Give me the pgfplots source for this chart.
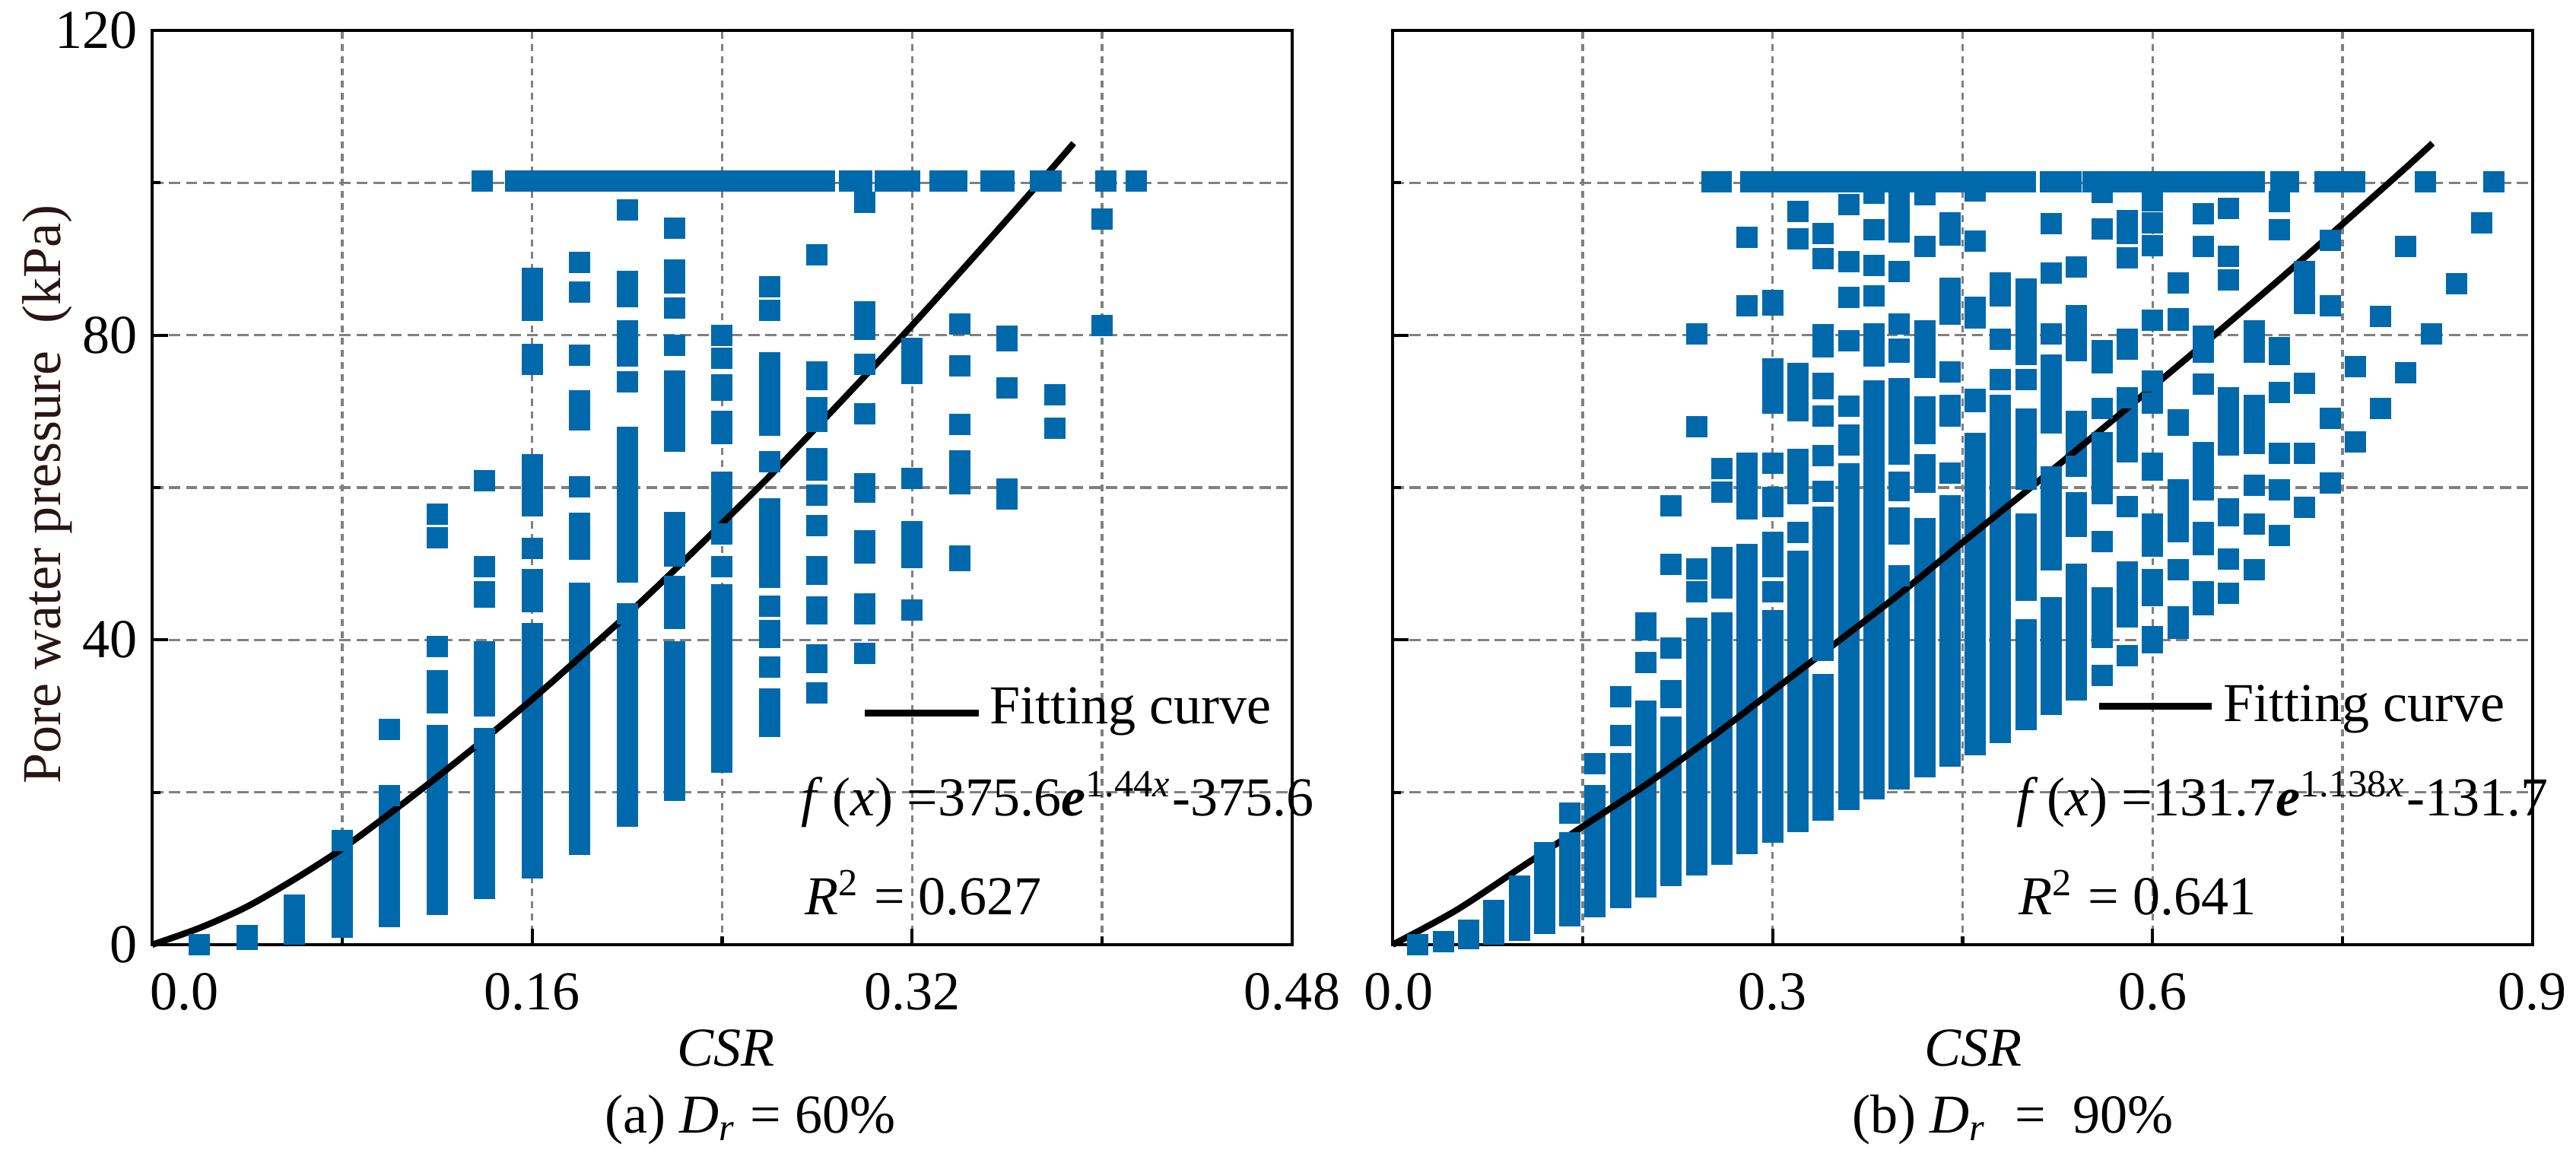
\documentclass[border=0pt]{standalone}
\usepackage{fontspec}
\setmainfont{Liberation Serif}
\usepackage{pgfplots}
\usepackage{pgfplotstable}
\pgfplotsset{compat=1.18}
\definecolor{dotblue}{RGB}{0,105,172}
\definecolor{gridgray}{RGB}{128,128,128}
\definecolor{ylab}{RGB}{40,22,20}

% ---------- left panel (Dr = 60%) vertical runs of points: x, lowest, highest ----------
\pgfplotstableread{
x lo hi
0.02 0 0
0.04 0.7 1.2
0.06 1.4 5.2
0.08 2.3 13.7
0.10 28.3 28.3
0.10 3.7 19.6
0.12 56.5 56.5
0.12 53.4 53.4
0.12 39.1 39.1
0.12 31.7 34.6
0.12 5.3 27.5
0.14 60.9 60.9
0.14 49.6 49.6
0.14 45.6 46.3
0.14 31.3 38.4
0.14 7.4 27.1
0.16 83.3 87.5
0.16 76.2 77.5
0.16 57.6 63.0
0.16 52.0 52.0
0.16 45.0 47.9
0.16 10.1 40.8
0.18 89.6 89.6
0.18 85.7 85.7
0.18 77.4 77.4
0.18 68.9 71.4
0.18 60.1 60.1
0.18 51.9 55.3
0.18 13.2 46.1
0.20 96.4 96.4
0.20 85.1 87.1
0.20 77.3 80.6
0.20 73.9 73.9
0.20 48.9 66.6
0.20 16.9 43.4
0.22 94.0 94.0
0.22 86.9 88.6
0.22 83.6 83.6
0.22 78.7 78.7
0.22 66.1 74.0
0.22 51.0 55.4
0.22 42.8 47.0
0.22 20.3 38.4
0.24 80.0 80.0
0.24 77.0 77.0
0.24 72.8 73.5
0.24 67.1 68.7
0.24 53.9 60.7
0.24 49.6 49.6
0.24 24.0 45.9
0.26 86.4 86.4
0.26 83.3 83.3
0.26 68.2 76.4
0.26 63.4 63.4
0.26 48.2 57.2
0.26 44.4 44.4
0.26 40.3 41.2
0.26 36.4 36.4
0.26 28.7 32.2
0.28 90.6 90.6
0.28 74.2 75.2
0.28 68.7 70.5
0.28 62.3 63.8
0.28 59.0 59.0
0.28 55.0 55.0
0.28 48.6 49.6
0.28 43.4 44.3
0.28 37.0 38.0
0.28 33.0 33.0
0.30 97.4 97.4
0.30 80.8 83.1
0.30 76.2 76.2
0.30 69.7 69.7
0.30 59.4 60.5
0.30 51.4 53.0
0.30 43.4 44.7
0.30 38.2 38.2
0.32 75.0 78.3
0.32 61.2 61.2
0.32 50.8 54.2
0.32 43.9 43.9
0.34 81.5 81.5
0.34 76.0 76.0
0.34 68.3 68.3
0.34 60.5 63.5
0.34 50.4 51.0
0.36 79.3 79.9
0.36 73.1 73.1
0.36 58.5 59.8
0.38 72.2 72.2
0.38 67.8 67.8
0.40 95.2 95.2
0.40 81.3 81.3
}\leftV

% left panel, points at 100 kPa: runs from x lo to x hi
\pgfplotstableread{
lo hi y
0.139 0.139 100.2
0.153 0.153 100.2
0.160 0.283 100.2
0.2936 0.2989 100.2
0.3087 0.3188 100.2
0.3318 0.3387 100.2
0.3533 0.3586 100.2
0.3740 0.3785 100.2
0.4015 0.4015 100.2
0.4145 0.4145 100.2
}\leftH

\pgfplotstableread{
x y
0 0
0.02 2.2
0.04 5.0
0.06 8.6
0.08 12.6
0.10 17.2
0.12 22.0
0.14 27.0
0.16 32.2
0.18 37.7
0.20 43.3
0.22 49.2
0.24 55.3
0.26 61.5
0.28 68.0
0.30 74.6
0.32 81.3
0.34 88.2
0.36 95.2
0.38 102.3
0.388 105.2
}\leftFit

% ---------- right panel (Dr = 90%) ----------
\pgfplotstableread{
x lo hi
0.02 0 0
0.04 0.4 0.4
0.06 0.8 1.9
0.08 1.4 4.5
0.10 1.9 7.7
0.12 2.8 12.1
0.14 17.3 17.3
0.14 3.8 13.4
0.16 23.8 23.8
0.16 5.0 19.6
0.18 32.5 32.5
0.18 27.5 27.5
0.18 6.2 23.8
0.20 41.3 42.2
0.20 37.0 37.0
0.20 7.6 30.6
0.22 57.6 57.6
0.22 49.9 49.9
0.22 38.9 38.9
0.22 32.4 33.3
0.22 9.1 28.6
0.24 80.2 80.2
0.24 68.0 68.0
0.24 49.3 49.3
0.24 46.3 46.3
0.24 10.5 41.5
0.26 62.5 62.5
0.26 59.4 59.4
0.26 46.8 50.8
0.26 11.9 42.2
0.28 92.8 92.8
0.28 83.9 83.9
0.28 57.2 63.2
0.28 13.3 51.2
0.30 84.0 84.6
0.30 71.1 75.6
0.30 63.2 63.2
0.30 57.5 58.7
0.30 49.6 52.8
0.30 46.3 46.3
0.30 14.8 42.5
0.32 96.2 96.2
0.32 92.6 92.6
0.32 70.1 75.0
0.32 59.2 63.7
0.32 54.1 54.1
0.32 16.2 50.3
0.34 93.3 93.3
0.34 90.1 90.1
0.34 78.5 80.1
0.34 73.0 73.7
0.34 69.4 69.4
0.34 64.2 64.2
0.34 59.5 59.5
0.34 38.6 56.1
0.34 17.7 34.1
0.36 97.1 97.1
0.36 89.7 89.7
0.36 85.0 85.0
0.36 79.3 79.3
0.36 70.7 70.7
0.36 65.6 66.9
0.36 19.1 61.8
0.38 98.6 98.6
0.38 93.8 93.8
0.38 89.2 89.2
0.38 85.2 85.2
0.38 77.3 80.2
0.38 20.5 72.7
0.40 93.5 98.9
0.40 88.4 88.4
0.40 81.5 81.5
0.40 77.8 78.2
0.40 64.4 73.0
0.40 59.6 60.7
0.40 53.9 56.0
0.40 21.8 48.4
0.42 98.4 98.4
0.42 91.6 91.6
0.42 75.8 80.6
0.42 67.1 70.6
0.42 60.7 63.0
0.42 23.4 54.6
0.44 93.1 94.7
0.44 82.8 86.2
0.44 75.2 75.2
0.44 69.4 70.8
0.44 61.9 61.9
0.44 24.8 57.6
0.46 98.9 98.9
0.46 92.3 92.3
0.46 82.3 83.7
0.46 71.3 71.6
0.46 26.3 65.8
0.48 85.2 86.9
0.48 79.5 79.5
0.48 74.2 74.2
0.48 27.9 70.8
0.50 77.5 86.1
0.50 74.2 74.2
0.50 61.1 69.0
0.50 46.5 55.2
0.50 29.6 41.3
0.52 94.6 94.6
0.52 88.2 88.2
0.52 80.2 80.2
0.52 68.5 76.1
0.52 50.5 61.4
0.52 31.5 44.2
0.54 89.0 89.0
0.54 78.0 82.6
0.54 62.8 68.7
0.54 54.9 58.0
0.54 33.4 48.6
0.56 98.7 98.7
0.56 93.9 93.9
0.56 76.4 78.0
0.56 70.4 70.4
0.56 59.2 65.9
0.56 52.9 52.9
0.56 40.3 45.5
0.56 35.3 35.3
0.58 93.3 95.0
0.58 90.2 90.2
0.58 78.2 79.5
0.58 64.7 71.8
0.58 57.5 57.5
0.58 43.0 48.9
0.58 37.9 37.9
0.60 97.6 97.6
0.60 94.7 94.7
0.60 91.7 91.7
0.60 82.0 82.0
0.60 71.1 74.0
0.60 62.3 63.2
0.60 52.3 55.2
0.60 45.8 47.9
0.60 39.6 40.4
0.62 86.9 86.9
0.62 82.0 82.2
0.62 68.2 68.9
0.62 54.2 59.7
0.62 49.2 49.2
0.62 41.5 43.0
0.64 95.9 95.9
0.64 91.6 91.6
0.64 77.8 79.9
0.64 73.6 73.6
0.64 59.7 64.6
0.64 52.5 54.1
0.64 44.6 46.3
0.66 96.6 96.6
0.66 90.4 90.4
0.66 87.3 87.3
0.66 65.6 71.8
0.66 56.3 57.2
0.66 50.6 50.6
0.66 46.1 46.1
0.68 80.6 80.6
0.68 77.8 77.8
0.68 65.8 70.8
0.68 60.3 60.3
0.68 55.2 55.2
0.68 49.2 49.2
0.70 97.5 97.5
0.70 93.8 93.8
0.70 77.5 78.4
0.70 72.5 72.5
0.70 64.5 64.5
0.70 59.7 59.7
0.70 53.7 53.7
0.72 84.2 88.4
0.72 73.7 73.7
0.72 64.5 64.5
0.72 57.4 57.4
0.74 92.4 92.4
0.74 83.9 83.9
0.74 69.1 69.1
0.74 60.6 60.6
0.76 75.9 75.9
0.76 66.0 66.0
0.78 82.5 82.5
0.78 70.4 70.4
0.80 91.6 91.6
0.80 75.1 75.1
0.82 80.2 80.2
0.84 86.8 86.8
0.86 94.7 94.7
}\rightV

\pgfplotstableread{
lo hi y
0.2520 0.2596 100.1
0.2830 0.4993 100.1
0.5195 0.5354 100.1
0.5531 0.6804 100.1
0.7012 0.7074 100.1
0.7363 0.7595 100.1
0.8153 0.8153 100.1
0.8694 0.8694 100.1
}\rightH

\pgfplotstableread{
x y
0 0
0.05 4.5
0.10 10.0
0.15 15.5
0.20 21.0
0.25 27.0
0.30 33.3
0.35 39.6
0.40 46.0
0.45 52.8
0.50 59.5
0.55 66.3
0.60 73.2
0.65 80.2
0.70 87.3
0.75 94.6
0.80 102.0
0.821 105.2
}\rightFit

\pgfplotsset{
  panel/.style={
    scale only axis, width=214.14pt, height=171.71pt,
    anchor=south west,
    ymin=0, ymax=120,
    ytick={0,40,80,120}, minor ytick={20,60,100},
    grid=both,
    major x grid style={gridgray, line width=0.5pt, dash pattern=on 1.3pt off 1.0pt},
    minor x grid style={gridgray, line width=0.5pt, dash pattern=on 1.3pt off 1.0pt},
    major y grid style={gridgray, line width=0.5pt, dash pattern=on 2.1pt off 1.1pt},
    minor y grid style={gridgray, line width=0.5pt, dash pattern=on 2.1pt off 1.1pt},
    tick align=inside, tick pos=left,
    major tick length=3pt, minor tick length=1.6pt,
    axis line style={line width=0.6pt},
    every tick/.style={black, line width=0.6pt},
    clip=false,
    tick label style={font=\fontsize{10.3}{12.4}\selectfont},
    xticklabel style={yshift=-1.9pt},
    yticklabel style={xshift=0.8pt},
  },
  vruns/.style={color=dotblue, only marks, mark=square*, mark size=1.8pt,
    mark options={solid, fill=dotblue, draw=dotblue, line width=0.4pt}},
  vbars/.style={color=dotblue, only marks, mark=square*, mark size=1.8pt,
    mark options={solid, fill=dotblue, draw=dotblue, line width=0.4pt},
    error bars/.cd, y dir=plus, y explicit, error mark=none,
    error bar style={line width=4pt, draw=dotblue, solid}},
  hbars/.style={color=dotblue, only marks, mark=square*, mark size=1.8pt,
    mark options={solid, fill=dotblue, draw=dotblue, line width=0.4pt},
    error bars/.cd, x dir=plus, x explicit, error mark=none,
    error bar style={line width=4pt, draw=dotblue, solid}},
}

\begin{document}
\begin{tikzpicture}[font=\fontsize{10.3}{12.4}\selectfont]
\useasboundingbox (0,0) rectangle (483.86pt,-218.43pt);

% ----- left panel -----
\begin{axis}[panel, at={(28.57pt,-177.43pt)},
  xmin=0, xmax=0.48,
  xtick={0,0.16,0.32,0.48}, minor xtick={0.08,0.24,0.40},
  xticklabels={\hspace{12.2pt}0.0, 0.16, 0.32, 0.48\hspace{4.6pt}},
  yticklabels={0,40,80,120}]
\addplot[vbars] table[x=x, y=lo, y error expr=\thisrow{hi}-\thisrow{lo}] {\leftV};
\addplot[vruns] table[x=x, y=hi] {\leftV};
\addplot[hbars] table[x=lo, y=y, x error expr=\thisrow{hi}-\thisrow{lo}] {\leftH};
\addplot[vruns] table[x=hi, y=y] {\leftH};
\addplot[black, line width=1.2pt, smooth, no marks] table[x=x, y=y] {\leftFit};
\draw[black, line width=1.2pt] (axis cs:0.3002,30.4) -- (axis cs:0.3482,30.4);
\node[anchor=base west, inner sep=0pt] at (axis cs:0.3522,29.0) {Fitting curve};
\node[anchor=base west, inner sep=0pt] at (axis cs:0.273,16.9)
  {\textit{f}\,(\textit{x}) =375.6\textbf{\textit{e}}\textsuperscript{1.44\textit{x}}-375.6};
\node[anchor=base west, inner sep=0pt] at (axis cs:0.2744,3.9)
  {\textit{R}\textsuperscript{2} = 0.627};
\end{axis}

% ----- right panel -----
\begin{axis}[panel, at={(261.57pt,-177.43pt)},
  xmin=0, xmax=0.9,
  xtick={0,0.3,0.6,0.9}, minor xtick={0.15,0.45,0.75},
  xticklabels={\hspace{2.3pt}0.0, 0.3, 0.6, 0.9},
  yticklabels={}]
\addplot[vbars] table[x=x, y=lo, y error expr=\thisrow{hi}-\thisrow{lo}] {\rightV};
\addplot[vruns] table[x=x, y=hi] {\rightV};
\addplot[hbars] table[x=lo, y=y, x error expr=\thisrow{hi}-\thisrow{lo}] {\rightH};
\addplot[vruns] table[x=hi, y=y] {\rightH};
\addplot[black, line width=1.2pt, smooth, no marks] table[x=x, y=y] {\rightFit};
\draw[black, line width=1.2pt] (axis cs:0.5578,31.3) -- (axis cs:0.6468,31.3);
\node[anchor=base west, inner sep=0pt] at (axis cs:0.6549,29.3) {Fitting curve};
\node[anchor=base west, inner sep=0pt] at (axis cs:0.4917,16.9)
  {\textit{f}\,(\textit{x}) =131.7\textbf{\textit{e}}\textsuperscript{1.138\textit{x}}-131.7};
\node[anchor=base west, inner sep=0pt] at (axis cs:0.4937,3.9)
  {\textit{R}\textsuperscript{2} = 0.641};
\end{axis}

% ----- labels -----
\node[rotate=90, text=ylab] at (8.86pt,-92.86pt) {Pore water pressure~~(kPa)};
\node at (136.4pt,-196.9pt) {\textit{CSR}};
\node at (370.7pt,-196.9pt) {\textit{CSR}};
\node at (140.9pt,-210.3pt) {(a) \textit{D}\textsubscript{\textit{r}} = 60\%};
\node at (378.1pt,-210.3pt) {(b) \textit{D}\textsubscript{\textit{r}} ~=~ 90\%};
\end{tikzpicture}
\end{document}
